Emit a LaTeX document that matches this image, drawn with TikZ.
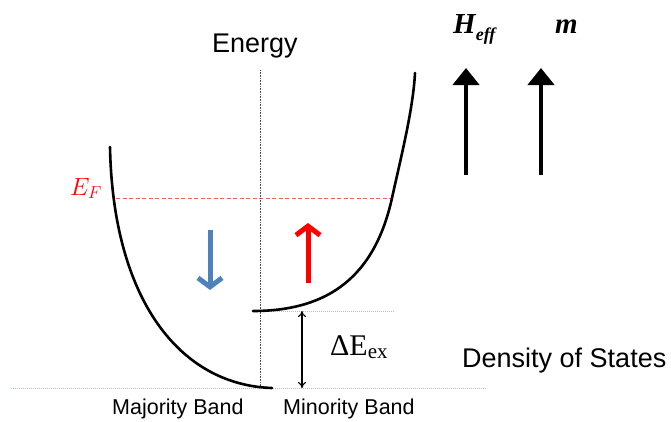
\documentclass[tikz,border=0pt]{standalone}
\usepackage{fontspec}
\setmainfont{Liberation Serif}
\setsansfont{Liberation Sans}
\usetikzlibrary{arrows.meta}

\definecolor{spinblue}{HTML}{4F81BD}
\definecolor{levelblue}{HTML}{A8C0E0}

\begin{document}
\begin{tikzpicture}[
  x=1pt, y=-1pt,
  band/.style={line width=2.6pt, line cap=round},
  level/.style={draw=levelblue, line width=1pt, densely dotted},
  axis/.style={draw=black!70, line width=0.6pt, densely dotted},
  fermi/.style={draw=red!65, line width=0.7pt, dash pattern=on 4pt off 2.5pt},
  spin/.style={line width=5pt, -{Straight Barb[length=9pt,width=24pt]}},
  field/.style={line width=4.5pt, -{Triangle[length=17pt,width=26pt]}},
  gap/.style={line width=1.1pt, {To[length=6pt,width=8pt]}-{To[length=6pt,width=8pt]}},
  label/.style={inner sep=0pt, anchor=base west, font=\sffamily\fontsize{27}{30}\selectfont},
  bandlabel/.style={inner sep=0pt, anchor=base west, font=\sffamily\fontsize{21.5}{24}\selectfont},
  sym/.style={inner sep=0pt, anchor=base west}
]
\useasboundingbox (0,0) rectangle (671,421);

% levels and axis
\coordinate (axtop) at (260,70);
\coordinate (axbot) at (260,388);
\coordinate (efl) at (116,198);
\coordinate (efr) at (393,198);
\coordinate (minl) at (253,311);
\coordinate (minr) at (395,311);
\coordinate (basel) at (11,388);
\coordinate (baser) at (487,388);

\draw[level] (basel) -- (baser);
\draw[level] (minl) -- (minr);
\draw[fermi] (efl) -- (efr);
\draw[axis] (axtop) -- (axbot);

% bands
\draw[band] (110,147) .. controls (113,300) and (180,385) .. (272,388);
\draw[band] (253,311) .. controls (330,311) and (375,275) .. (392,198)
  .. controls (401,157) and (413,110) .. (415,73);

% exchange splitting
\coordinate (gaptop) at (302,311);
\coordinate (gapbot) at (302,388);
\draw[gap] (gaptop) -- (gapbot);

% spins
\coordinate (dntop) at (210,230);
\coordinate (dnbot) at (210,290);
\coordinate (upbot) at (308,283);
\coordinate (uptop) at (308,223);
\draw[spin, spinblue] (dntop) -- (dnbot);
\draw[spin, red] (upbot) -- (uptop);

% field and moment
\coordinate (hbot) at (466,175);
\coordinate (htop) at (466,68);
\coordinate (mbot) at (541,175);
\coordinate (mtop) at (541,68);
\draw[field] (hbot) -- (htop);
\draw[field] (mbot) -- (mtop);

% labels
\node[label] (energy) at (212,52) {Energy};
\node[label] (dos) at (462,367) {Density of States};
\node[bandlabel] (major) at (112,414) {Majority Band};
\node[bandlabel] (minor) at (283,414) {Minority Band};
\node[sym, red, font=\fontsize{25}{28}\selectfont] (ef) at (70,195) {$E_F$};
\node[sym, font=\fontsize{30}{32}\selectfont] (dex) at (330,355) {ΔE\raisebox{-3pt}{\fontsize{21}{22}\selectfont ex}};
\node[sym, font=\bfseries\itshape\fontsize{29}{30}\selectfont] (heff) at (453,33) {H\raisebox{-7pt}{\fontsize{18}{20}\selectfont eff}};
\node[sym, font=\bfseries\itshape\fontsize{29}{30}\selectfont] (mag) at (555,33) {m};

\end{tikzpicture}
\end{document}
